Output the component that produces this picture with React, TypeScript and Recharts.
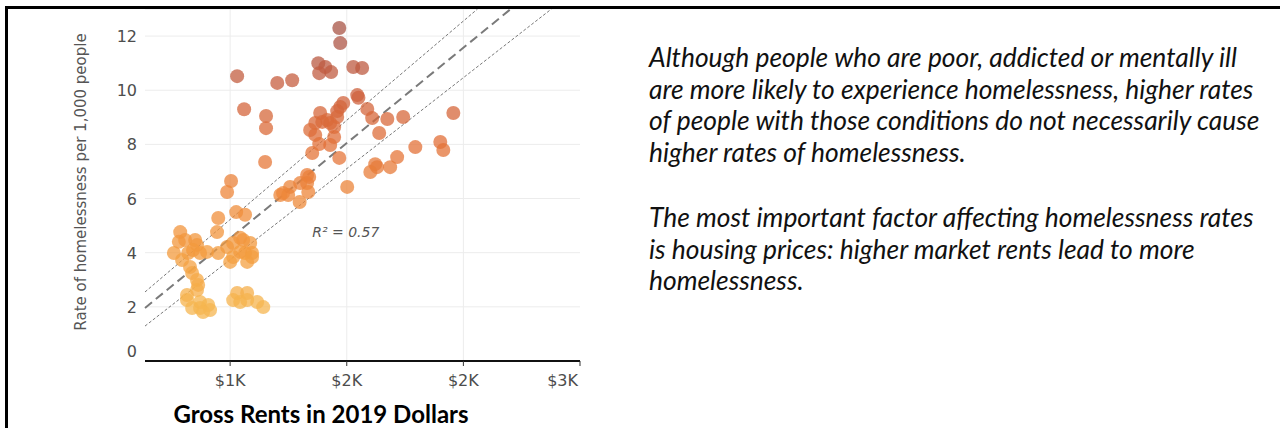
import React from 'react';
import { ScatterChart, Scatter, XAxis, YAxis, CartesianGrid, ReferenceLine, ReferenceDot } from 'recharts';

// gross rent (2019 $) per city
const RENTS = [
  1468, 1472, 1378, 1408, 1433, 1382, 1528, 1566, 1030, 1202, 1266, 1060, 1154, 1154, 1150,
  1545, 1550, 1485, 1472, 1459, 1386, 1459, 1416, 1429, 1395, 1365, 1446, 1343, 1365, 1446,
  1382, 1429, 1352, 1468, 1330, 1330, 1335, 1339, 1588, 1609, 1674, 1742, 1639, 1957, 1794,
  1901, 1914, 1716, 1622, 1630, 1601, 1686, 1502,
  1298, 1227, 1249, 1215, 1257, 1300,
  1004, 987, 1026, 1064, 949, 786, 944,
  807, 858, 759, 820, 871, 794, 901, 949, 987, 1013, 1056, 1086, 1094, 1064, 1013, 1000, 1073,
  1043, 1043, 1094, 828, 837, 858, 780, 850, 841, 863,
  815, 858, 815, 871, 837, 871, 906, 914, 884, 1030, 1073, 1043, 1073, 1116, 1142, 1013,
];

// homeless per 1,000 people, same order as RENTS
const RATES = [
  12.3, 11.74, 11.0, 10.86, 10.67, 10.63, 10.86, 10.82, 10.52, 10.27, 10.37, 9.3, 9.05, 8.6, 7.35,
  9.82, 9.72, 9.53, 9.38, 9.23, 9.16, 9.01, 8.9, 8.79, 8.83, 8.79, 8.64, 8.53, 8.35, 8.27,
  8.01, 7.98, 7.68, 7.5, 6.87, 6.57, 6.24, 6.8, 9.31, 8.97, 8.94, 9.01, 8.42, 9.16, 7.9,
  8.09, 7.79, 7.53, 7.27, 7.16, 6.98, 7.16, 6.43,
  5.87, 6.2, 6.13, 6.13, 6.43, 6.57,
  6.65, 6.24, 5.5, 5.4, 5.28, 4.76, 4.76,
  4.47, 4.28, 3.99, 3.99, 3.99, 3.73, 4.03, 3.99, 4.21, 4.36, 4.47, 4.36, 3.99, 3.99, 3.84, 3.66, 3.66,
  4.03, 4.55, 3.84, 3.47, 3.25, 2.99, 4.4, 4.47, 4.1, 2.81,
  2.44, 2.62, 2.25, 2.18, 1.96, 1.96, 2.07, 1.88, 1.81, 2.51, 2.51, 2.18, 2.25, 2.18, 1.99, 2.25,
];

const X_DOMAIN = [635, 2500];
const X_TICKS = [1000, 1500, 2000, 2500];
const Y_DOMAIN = [0, 13];
const Y_TICKS = [0, 2, 4, 6, 8, 10, 12];

// linear fit: value at X_DOMAIN[0] and slope per dollar
const FIT_CENTER = [1.96, 0.00704];
const FIT_UPPER = [2.55, 0.00733];
const FIT_LOWER = [1.29, 0.00672];
const R2_TEXT = 'R\u00b2 = 0.57';
const R2_AT = [1352, 4.76];

const NOTE_1 = [
  'Although people who are poor, addicted or mentally ill',
  'are more likely to experience homelessness, higher rates',
  'of people with those conditions do not necessarily cause',
  'higher rates of homelessness.',
];
const NOTE_2 = [
  'The most important factor affecting homelessness rates',
  'is housing prices: higher market rents lead to more',
  'homelessness.',
];

const data = RENTS.map((rent, i) => ({ rent, rate: RATES[i] }));

const COLOR_STOPS: [number, number[]][] = [
  [2, [246, 182, 80]],
  [4, [243, 155, 62]],
  [6, [238, 137, 58]],
  [8, [226, 112, 56]],
  [10, [204, 96, 62]],
  [12, [168, 84, 70]],
];

const rateColor = (v: number) => {
  if (v <= COLOR_STOPS[0][0]) return `rgb(${COLOR_STOPS[0][1].join(',')})`;
  for (let i = 1; i < COLOR_STOPS.length; i++) {
    const [v1, c1] = COLOR_STOPS[i];
    if (v <= v1) {
      const [v0, c0] = COLOR_STOPS[i - 1];
      const t = (v - v0) / (v1 - v0);
      return `rgb(${c0.map((c, k) => Math.round(c + (c1[k] - c) * t)).join(',')})`;
    }
  }
  return `rgb(${COLOR_STOPS[COLOR_STOPS.length - 1][1].join(',')})`;
};

// clip a fit line to the plot box
const fitSegment = (fit: number[]) => {
  const [b, m] = fit;
  const x0 = X_DOMAIN[0];
  let x1 = X_DOMAIN[1];
  let y1 = b + m * (x1 - x0);
  if (y1 > Y_DOMAIN[1]) {
    y1 = Y_DOMAIN[1];
    x1 = x0 + (y1 - b) / m;
  }
  return [{ x: x0, y: b }, { x: x1, y: y1 }];
};

const fmtRent = (v: number) => `$${Math.round(v / 1000)}K`;

const tickFont = { fontFamily: 'DejaVu Sans, sans-serif', fontSize: 16, fill: '#4d4d4d' };

const XTick = (props: any) => {
  const { x, y, payload } = props;
  const last = payload.value === X_TICKS[X_TICKS.length - 1];
  return (
    <text x={last ? x - 2 : x} y={y} dy={12} textAnchor={last ? 'end' : 'middle'} {...tickFont}>
      {fmtRent(payload.value)}
    </text>
  );
};

const YTick = (props: any) => {
  const { x, y, payload } = props;
  return (
    <text x={x} y={payload.value === 0 ? y - 10 : y} dy={6} textAnchor="end" {...tickFont}>
      {payload.value}
    </text>
  );
};

const YTitle = () => (
  <text
    transform="translate(81,182) rotate(-90)"
    textAnchor="middle"
    dominantBaseline="central"
    fontFamily="DejaVu Sans, sans-serif"
    fontSize={15}
    fill="#555"
  >
    Rate of homelessness per 1,000 people
  </text>
);

const R2Label = (props: any) => {
  const { viewBox } = props;
  return (
    <text
      x={viewBox.x}
      y={viewBox.y + viewBox.height / 2}
      dy={5}
      fontFamily="DejaVu Sans, sans-serif"
      fontStyle="italic"
      fontSize={14}
      fill="#555"
    >
      {R2_TEXT}
    </text>
  );
};

const Dot = (props: any) => (
  <circle cx={props.cx} cy={props.cy} r={7} fill={rateColor(props.payload.rate)} fillOpacity={0.75} />
);

export default function App() {
  return (
    <div style={{ position: 'absolute', left: 0, top: 0, width: 1280, height: 428, background: '#fff', overflow: 'hidden' }}>
      <div style={{ position: 'absolute', left: 0, top: 0 }}>
        <ScatterChart width={600} height={428} margin={{ top: 9, right: 20, bottom: 27, left: 0 }}>
          <CartesianGrid stroke="#ececec" verticalValues={[1000, 1500, 2000]} />
          <XAxis
            type="number"
            dataKey="rent"
            domain={X_DOMAIN}
            ticks={X_TICKS}
            allowDataOverflow
            height={40}
            tickSize={5}
            tickMargin={8}
            axisLine={{ stroke: '#111', strokeWidth: 2 }}
            tickLine={{ stroke: '#333' }}
            tick={<XTick />}
          />
          <YAxis
            type="number"
            dataKey="rate"
            domain={Y_DOMAIN}
            ticks={Y_TICKS}
            allowDataOverflow
            width={145}
            axisLine={false}
            tickLine={false}
            tickSize={0}
            tickMargin={8}
            tick={<YTick />}
            label={<YTitle />}
          />
          <Scatter data={data} shape={<Dot />} isAnimationActive={false} />
          <ReferenceLine segment={fitSegment(FIT_UPPER)} stroke="#555" strokeWidth={0.8} strokeDasharray="3 2" />
          <ReferenceLine segment={fitSegment(FIT_LOWER)} stroke="#555" strokeWidth={0.8} strokeDasharray="3 2" />
          <ReferenceLine segment={fitSegment(FIT_CENTER)} stroke="#7a7a7a" strokeWidth={2} strokeDasharray="9 5" />
          <ReferenceDot x={R2_AT[0]} y={R2_AT[1]} r={0} fill="none" stroke="none" label={<R2Label />} />
        </ScatterChart>
      </div>
      <div
        style={{
          position: 'absolute', left: 121, top: 402, width: 400, textAlign: 'center', whiteSpace: 'nowrap',
          fontFamily: 'Lato, sans-serif', fontWeight: 700, fontSize: 24, lineHeight: '24px', color: '#000',
        }}
      >
        Gross Rents in 2019 Dollars
      </div>
      <div
        style={{
          position: 'absolute', left: 649, top: 42, whiteSpace: 'nowrap',
          fontFamily: 'Lato, sans-serif', fontStyle: 'italic', fontSize: 26.4, lineHeight: '31.5px', color: '#111',
        }}
      >
        <div>{NOTE_1.map((l) => <div key={l}>{l}</div>)}</div>
        <div style={{ marginTop: 34 }}>{NOTE_2.map((l) => <div key={l}>{l}</div>)}</div>
      </div>
      <div style={{ position: 'absolute', left: 5, top: 6, width: 1275, height: 3, background: '#000' }} />
      <div style={{ position: 'absolute', left: 5, top: 6, width: 3, height: 422, background: '#000' }} />
    </div>
  );
}
